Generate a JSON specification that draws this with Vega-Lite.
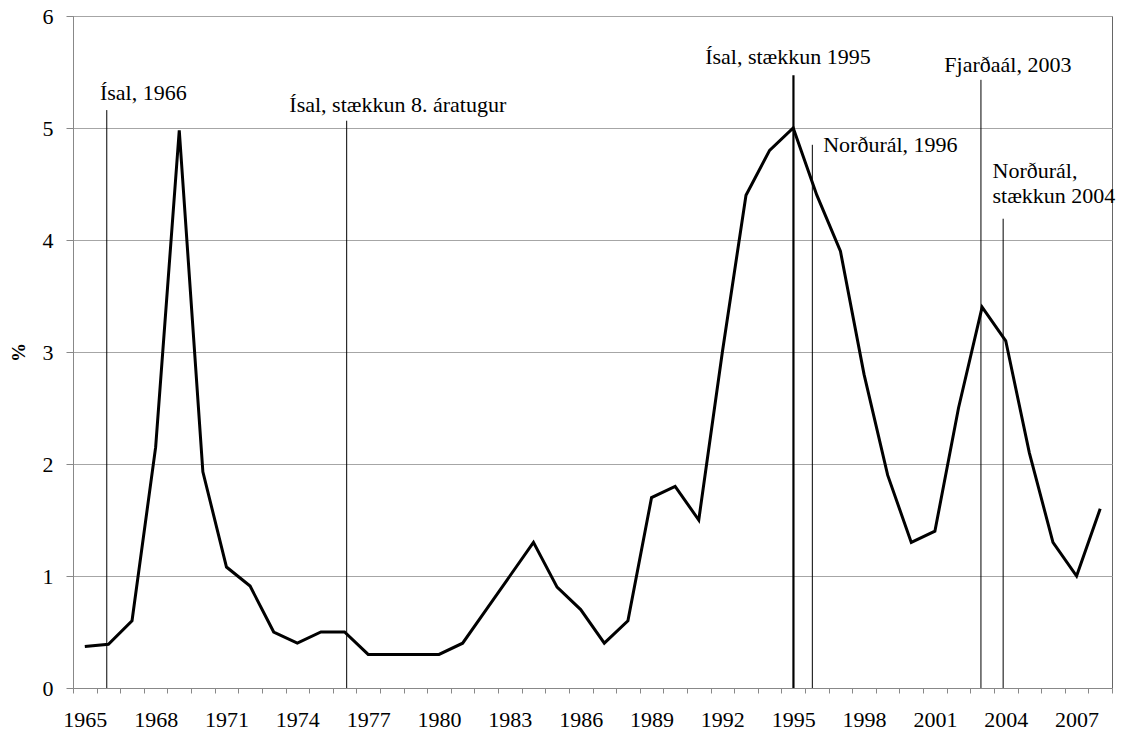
{
  "$schema": "https://vega.github.io/schema/vega-lite/v6.json",
  "width": 1039,
  "height": 672,
  "autosize": {"type": "none"},
  "padding": {"left": 73, "top": 16, "right": 11, "bottom": 46},
  "background": "white",
  "config": {
    "view": {"stroke": "#666666", "strokeWidth": 1}
  },
  "datasets": {
    "series": [
      {"year": 1965, "value": 0.37}, {"year": 1966, "value": 0.39}, {"year": 1967, "value": 0.6},
      {"year": 1968, "value": 2.15}, {"year": 1969, "value": 4.98}, {"year": 1970, "value": 1.93},
      {"year": 1971, "value": 1.08}, {"year": 1972, "value": 0.91}, {"year": 1973, "value": 0.5},
      {"year": 1974, "value": 0.4}, {"year": 1975, "value": 0.5}, {"year": 1976, "value": 0.5},
      {"year": 1977, "value": 0.3}, {"year": 1978, "value": 0.3}, {"year": 1979, "value": 0.3},
      {"year": 1980, "value": 0.3}, {"year": 1981, "value": 0.4}, {"year": 1982, "value": 0.7},
      {"year": 1983, "value": 1.0}, {"year": 1984, "value": 1.3}, {"year": 1985, "value": 0.9},
      {"year": 1986, "value": 0.7}, {"year": 1987, "value": 0.4}, {"year": 1988, "value": 0.6},
      {"year": 1989, "value": 1.7}, {"year": 1990, "value": 1.8}, {"year": 1991, "value": 1.5},
      {"year": 1992, "value": 3.0}, {"year": 1993, "value": 4.4}, {"year": 1994, "value": 4.8},
      {"year": 1995, "value": 5.0}, {"year": 1996, "value": 4.4}, {"year": 1997, "value": 3.9},
      {"year": 1998, "value": 2.8}, {"year": 1999, "value": 1.9}, {"year": 2000, "value": 1.3},
      {"year": 2001, "value": 1.4}, {"year": 2002, "value": 2.5}, {"year": 2003, "value": 3.4},
      {"year": 2004, "value": 3.1}, {"year": 2005, "value": 2.1}, {"year": 2006, "value": 1.3},
      {"year": 2007, "value": 1.0}, {"year": 2008, "value": 1.6}
    ],
    "events": [
      {"name": "Ísal, 1966", "x": 1965.93, "top": 5.16, "major": false},
      {"name": "Ísal, stækkun 8. áratugur", "x": 1976.09, "top": 5.065, "major": false},
      {"name": "Ísal, stækkun 1995", "x": 1995.01, "top": 5.47, "major": true},
      {"name": "Norðurál, 1996", "x": 1995.81, "top": 4.85, "major": false},
      {"name": "Fjarðaál, 2003", "x": 2002.95, "top": 5.43, "major": false},
      {"name": "Norðurál, stækkun 2004", "x": 2003.89, "top": 4.19, "major": false}
    ],
    "labels": [
      {"text": "Ísal, 1966", "x": 1965.64, "y": 5.25},
      {"text": "Ísal, stækkun 8. áratugur", "x": 1973.66, "y": 5.146},
      {"text": "Ísal, stækkun 1995", "x": 1991.27, "y": 5.569},
      {"text": "Norðurál, 1996", "x": 1996.27, "y": 4.789},
      {"text": "Fjarðaál, 2003", "x": 2001.4, "y": 5.503},
      {"text": "Norðurál,\nstækkun 2004", "x": 2003.44, "y": 4.551}
    ]
  },
  "layer": [
    {
      "data": {"name": "series"},
      "mark": {"type": "line", "color": "black", "strokeWidth": 3, "strokeJoin": "miter", "clip": true},
      "encoding": {
        "x": {
          "field": "year", "type": "quantitative",
          "scale": {"domain": [1964.5, 2008.5], "nice": false, "zero": false},
          "axis": {
            "title": null,
            "values": [1964.5,1965.5,1966.5,1967.5,1968.5,1969.5,1970.5,1971.5,1972.5,1973.5,1974.5,1975.5,1976.5,1977.5,1978.5,1979.5,1980.5,1981.5,1982.5,1983.5,1984.5,1985.5,1986.5,1987.5,1988.5,1989.5,1990.5,1991.5,1992.5,1993.5,1994.5,1995.5,1996.5,1997.5,1998.5,1999.5,2000.5,2001.5,2002.5,2003.5,2004.5,2005.5,2006.5,2007.5,2008.5],
            "tickCount": 100,
            "labelExpr": "(datum.value + 0.5 - 1965) % 3 == 0 && datum.value < 2008 ? format(datum.value + 0.5, 'd') : ''",
            "labelOffset": 11.8,
            "labelOverlap": false,
            "labelFlush": false,
            "labelBound": false,
            "labelFont": "Liberation Serif",
            "labelFontSize": 22,
            "labelColor": "black",
            "labelPadding": 16,
            "tickSize": 5,
            "tickColor": "#888888",
            "domainColor": "#888888",
            "grid": false
          }
        },
        "y": {
          "field": "value", "type": "quantitative",
          "scale": {"domain": [0, 6], "nice": false},
          "axis": {
            "title": "%",
            "titleFont": "Liberation Serif",
            "titleFontWeight": "bold",
            "titleFontSize": 19,
            "titleAngle": -90,
            "titleX": -55,
            "titleY": 336,
            "titleBaseline": "middle",
            "titleAlign": "center",
            "values": [0, 1, 2, 3, 4, 5, 6],
            "format": "d",
            "labelFont": "Liberation Serif",
            "labelFontSize": 22,
            "labelColor": "black",
            "labelPadding": 13,
            "tickSize": 7,
            "tickColor": "#888888",
            "domainColor": "#888888",
            "grid": true,
            "gridColor": "#a6a6a6",
            "gridWidth": 1
          }
        }
      }
    },
    {
      "data": {"name": "events"},
      "transform": [{"filter": "!datum.major"}],
      "mark": {"type": "rule", "color": "black", "strokeWidth": 1},
      "encoding": {
        "x": {"field": "x", "type": "quantitative"},
        "y": {"field": "top", "type": "quantitative"},
        "y2": {"datum": 0}
      }
    },
    {
      "data": {"name": "events"},
      "transform": [{"filter": "datum.major"}],
      "mark": {"type": "rule", "color": "black", "strokeWidth": 2.2},
      "encoding": {
        "x": {"field": "x", "type": "quantitative"},
        "y": {"field": "top", "type": "quantitative"},
        "y2": {"datum": 0}
      }
    },
    {
      "data": {"name": "labels"},
      "mark": {"type": "text", "align": "left", "baseline": "alphabetic", "fontSize": 22, "font": "Liberation Serif", "color": "black", "lineBreak": "\n", "lineHeight": 25},
      "encoding": {
        "x": {"field": "x", "type": "quantitative"},
        "y": {"field": "y", "type": "quantitative"},
        "text": {"field": "text"}
      }
    }
  ]
}
